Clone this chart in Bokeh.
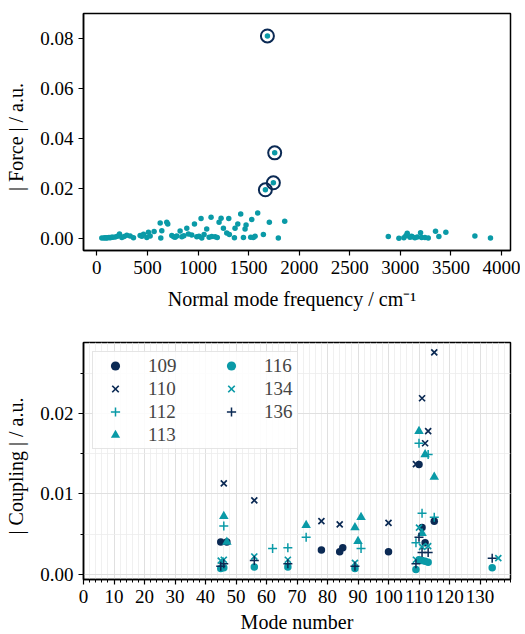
from bokeh.plotting import figure
from bokeh.layouts import column
from bokeh.models import Range1d, FixedTicker, NumeralTickFormatter, Legend, LegendItem
from bokeh.embed import file_html
from bokeh.resources import INLINE

# ---------------- data: top panel ----------------
freq = [49, 70, 82, 95, 105, 120, 132, 145, 158, 181, 204, 224, 247, 270, 296, 329, 362,
        428, 445, 461, 494, 510, 527, 566, 626, 632, 642, 691, 701, 741, 760, 774, 790,
        823, 840, 860, 889, 905, 938, 965, 988, 1010, 1030, 1037, 1060, 1086, 1110, 1129,
        1136, 1169, 1190, 1208, 1228, 1251, 1284, 1304, 1310, 1360, 1366, 1393, 1422, 1449,
        1465, 1475, 1521, 1531, 1547, 1564, 1590, 1646, 1666, 1686, 1705, 1745, 1758, 1794,
        1857, 2881, 2986, 3035, 3055, 3068, 3095, 3110, 3118, 3144, 3167, 3200, 3210, 3243,
        3276, 3348, 3381, 3450, 3737, 3891]
force = [0.0001, 0.0001, 0.0002, 0.0001, 0.0002, 0.0003, 0.0002, 0.0004, 0.0004, 0.0005,
         0.0008, 0.0017, 0.0003, 0.0007, 0.0012, 0.0009, 0.0002, 0.0011, 0.0008, 0.0016,
         0.0003, 0.0024, 0.0009, 0.0027, 0.0061, 0.0001, 0.0030, 0.0064, 0.0057, 0.0011,
         0.0006, 0.0004, 0.0009, 0.0029, 0.0006, 0.0010, 0.0040, 0.0017, 0.0013, 0.0057,
         0.0006, 0.0008, 0.0079, 0.0001, 0.0015, 0.0037, 0.0004, 0.0084, 0.0007, 0.0006,
         0.0003, 0.0064, 0.0080, 0.0040, 0.0021, 0.0079, 0.0015, 0.0002, 0.0040, 0.0057,
         0.0097, 0.0003, 0.0037, 0.0053, 0.0004, 0.0075, 0.0003, 0.0008, 0.0101, 0.0015,
         0.0194, 0.0810, 0.0064, 0.0222, 0.0342, 0.0001, 0.0068, 0.0007, 0.0000, 0.0002,
         0.0010, 0.0020, 0.0004, 0.0008, 0.0006, 0.0002, 0.0005, 0.0022, 0.0003, 0.0003,
         0.0001, 0.0028, 0.0007, 0.0024, 0.0009, 0.0001]
hl_freq = [1666, 1686, 1745, 1758]
hl_force = [0.0194, 0.0810, 0.0222, 0.0342]

freq_ticks = [0, 500, 1000, 1500, 2000, 2500, 3000, 3500, 4000]
force_ticks = [0.0, 0.02, 0.04, 0.06, 0.08]

# ---------------- data: bottom panel ----------------
m109 = [45, 47, 78, 84, 85, 100, 110, 111, 112, 115]
c109 = [0.0040, 0.0040, 0.0030, 0.0028, 0.0033, 0.0028, 0.01365, 0.0058, 0.0039, 0.0066]
m110 = [46, 56, 78, 84, 100, 109, 111, 112, 113, 115]
c110 = [0.0113, 0.0092, 0.0066, 0.0062, 0.0064, 0.0137, 0.0219, 0.0163, 0.0178, 0.0276]
m112 = [46, 62, 67, 73, 91, 109, 110, 111, 113, 115]
c112 = [0.0060, 0.0032, 0.0033, 0.0046, 0.0032, 0.0039, 0.0163, 0.0076, 0.0149, 0.0071]
m113 = [46, 47, 73, 89, 90, 91, 110, 111, 112, 115]
c113 = [0.0072, 0.0040, 0.0061, 0.0058, 0.0041, 0.0071, 0.0178, 0.0051, 0.0149, 0.0121]
m116 = [45, 46, 56, 67, 89, 109, 110, 111, 112, 113, 134]
c116 = [0.0007, 0.0008, 0.0009, 0.0009, 0.0007, 0.0006, 0.0018, 0.0017, 0.0016, 0.0015, 0.0008]
m134 = [45, 46, 56, 67, 89, 109, 110, 111, 113, 136]
c134 = [0.0017, 0.0018, 0.0022, 0.0018, 0.0014, 0.0018, 0.0058, 0.0034, 0.0035, 0.0020]
m136 = [45, 46, 56, 67, 89, 109, 110, 111, 113, 134]
c136 = [0.0010, 0.0013, 0.0017, 0.0013, 0.0010, 0.0013, 0.0046, 0.0027, 0.0027, 0.0020]

mode_ticks = list(range(0, 131, 10))
coupling_ticks = [0.0, 0.01, 0.02]

NAVY = "#0b2a54"
TEAL = "#0a9aa7"
FONT = "Liberation Serif"
FS = "19px"
FS_LABEL = "20px"


def style(p):
    p.outline_line_color = "black"
    p.outline_line_width = 1.5
    p.outline_line_alpha = 1.0
    p.background_fill_color = "white"
    p.border_fill_color = "white"
    for ax in (p.xaxis[0], p.yaxis[0]):
        ax.axis_line_width = 1.5
        ax.major_tick_line_width = 1.2
        ax.major_tick_in = 0
        ax.major_tick_out = 5
        ax.minor_tick_in = 0
        ax.minor_tick_out = 3
        ax.minor_tick_line_width = 1.0
        ax.major_label_text_font = FONT
        ax.major_label_text_font_size = FS
        ax.major_label_text_color = "black"
        ax.axis_label_text_font = FONT
        ax.axis_label_text_font_size = FS_LABEL
        ax.axis_label_text_font_style = "normal"
        ax.axis_label_text_color = "black"
        ax.major_label_standoff = 5


# ---------------- top figure ----------------
p1 = figure(frame_width=427, frame_height=237, output_backend="svg", toolbar_location=None,
            x_range=Range1d(-132, 4089), y_range=Range1d(-0.0049, 0.09),
            min_border_left=83, min_border_right=10, min_border_top=13, min_border_bottom=65)
style(p1)
p1.xgrid.grid_line_color = None
p1.ygrid.grid_line_color = None
p1.xaxis.ticker = FixedTicker(ticks=freq_ticks)
p1.yaxis.ticker = FixedTicker(ticks=force_ticks)
p1.yaxis.formatter = NumeralTickFormatter(format="0.00")
p1.xaxis.minor_tick_line_color = None
p1.yaxis.minor_tick_line_color = None
p1.xaxis.axis_label = "Normal mode frequency  /  cm\u207b\u00b9"
p1.yaxis.axis_label = "| Force |  /  a.u."
p1.xaxis.axis_label_standoff = 11
p1.yaxis.axis_label_standoff = 10

p1.scatter(freq, force, size=5.5, color=TEAL, line_color=None)
p1.scatter(hl_freq, hl_force, size=13, fill_color=None, line_color=NAVY, line_width=2)

# ---------------- bottom figure ----------------
p2 = figure(frame_width=427, frame_height=237, output_backend="svg", toolbar_location=None,
            x_range=Range1d(0, 140), y_range=Range1d(-0.00066, 0.02884),
            min_border_left=83, min_border_right=10, min_border_top=27, min_border_bottom=54)
style(p2)
p2.xaxis.ticker = FixedTicker(ticks=mode_ticks, minor_ticks=list(range(0, 141, 2)))
p2.yaxis.ticker = FixedTicker(ticks=coupling_ticks, minor_ticks=[0.0, 0.005, 0.01, 0.015, 0.02, 0.025])
p2.yaxis.formatter = NumeralTickFormatter(format="0.00")
p2.xaxis.axis_label = "Mode number"
p2.yaxis.axis_label = "| Coupling |  /  a.u."
p2.xaxis.axis_label_standoff = 5
p2.yaxis.axis_label_standoff = 10
for g in (p2.xgrid[0], p2.ygrid[0]):
    g.grid_line_color = "#dcdcdc"
    g.grid_line_width = 0.8
    g.minor_grid_line_color = "#ececec"
    g.minor_grid_line_width = 0.8

r109 = p2.scatter(m109, c109, marker="circle", size=7.5, color=NAVY, line_color=None)
r110 = p2.scatter(m110, c110, marker="x", size=8.5, line_color=NAVY, line_width=1.7)
r112 = p2.scatter(m112, c112, marker="cross", size=9, line_color=TEAL, line_width=1.5)
r113 = p2.scatter(m113, c113, marker="triangle", size=9.5, color=TEAL, line_color=None)
r116 = p2.scatter(m116, c116, marker="circle", size=7.5, color=TEAL, line_color=None)
r134 = p2.scatter(m134, c134, marker="x", size=8.5, line_color=TEAL, line_width=1.7)
r136 = p2.scatter(m136, c136, marker="cross", size=9, line_color=NAVY, line_width=1.5)

legA = Legend(items=[LegendItem(label="109", renderers=[r109]),
                     LegendItem(label="110", renderers=[r110]),
                     LegendItem(label="112", renderers=[r112]),
                     LegendItem(label="113", renderers=[r113])],
              location="top_left", margin=9, padding=2, spacing=0,
              glyph_width=40, glyph_height=23, label_height=23, label_width=147,
              label_standoff=13, label_text_font=FONT, label_text_font_size=FS,
              border_line_color="#cccccc", border_line_width=1,
              background_fill_color="white", background_fill_alpha=0.85)
legB = Legend(items=[LegendItem(label="116", renderers=[r116]),
                     LegendItem(label="134", renderers=[r134]),
                     LegendItem(label="136", renderers=[r136])],
              location=(128, 156), margin=0, padding=2, spacing=0,
              glyph_width=40, glyph_height=23, label_height=23,
              label_standoff=13, label_text_font=FONT, label_text_font_size=FS,
              border_line_color=None, background_fill_alpha=0)
p2.add_layout(legA, "center")
p2.add_layout(legB, "center")

layout = column(p1, p2, spacing=0)
open("out.html", "w").write(file_html(layout, INLINE))
